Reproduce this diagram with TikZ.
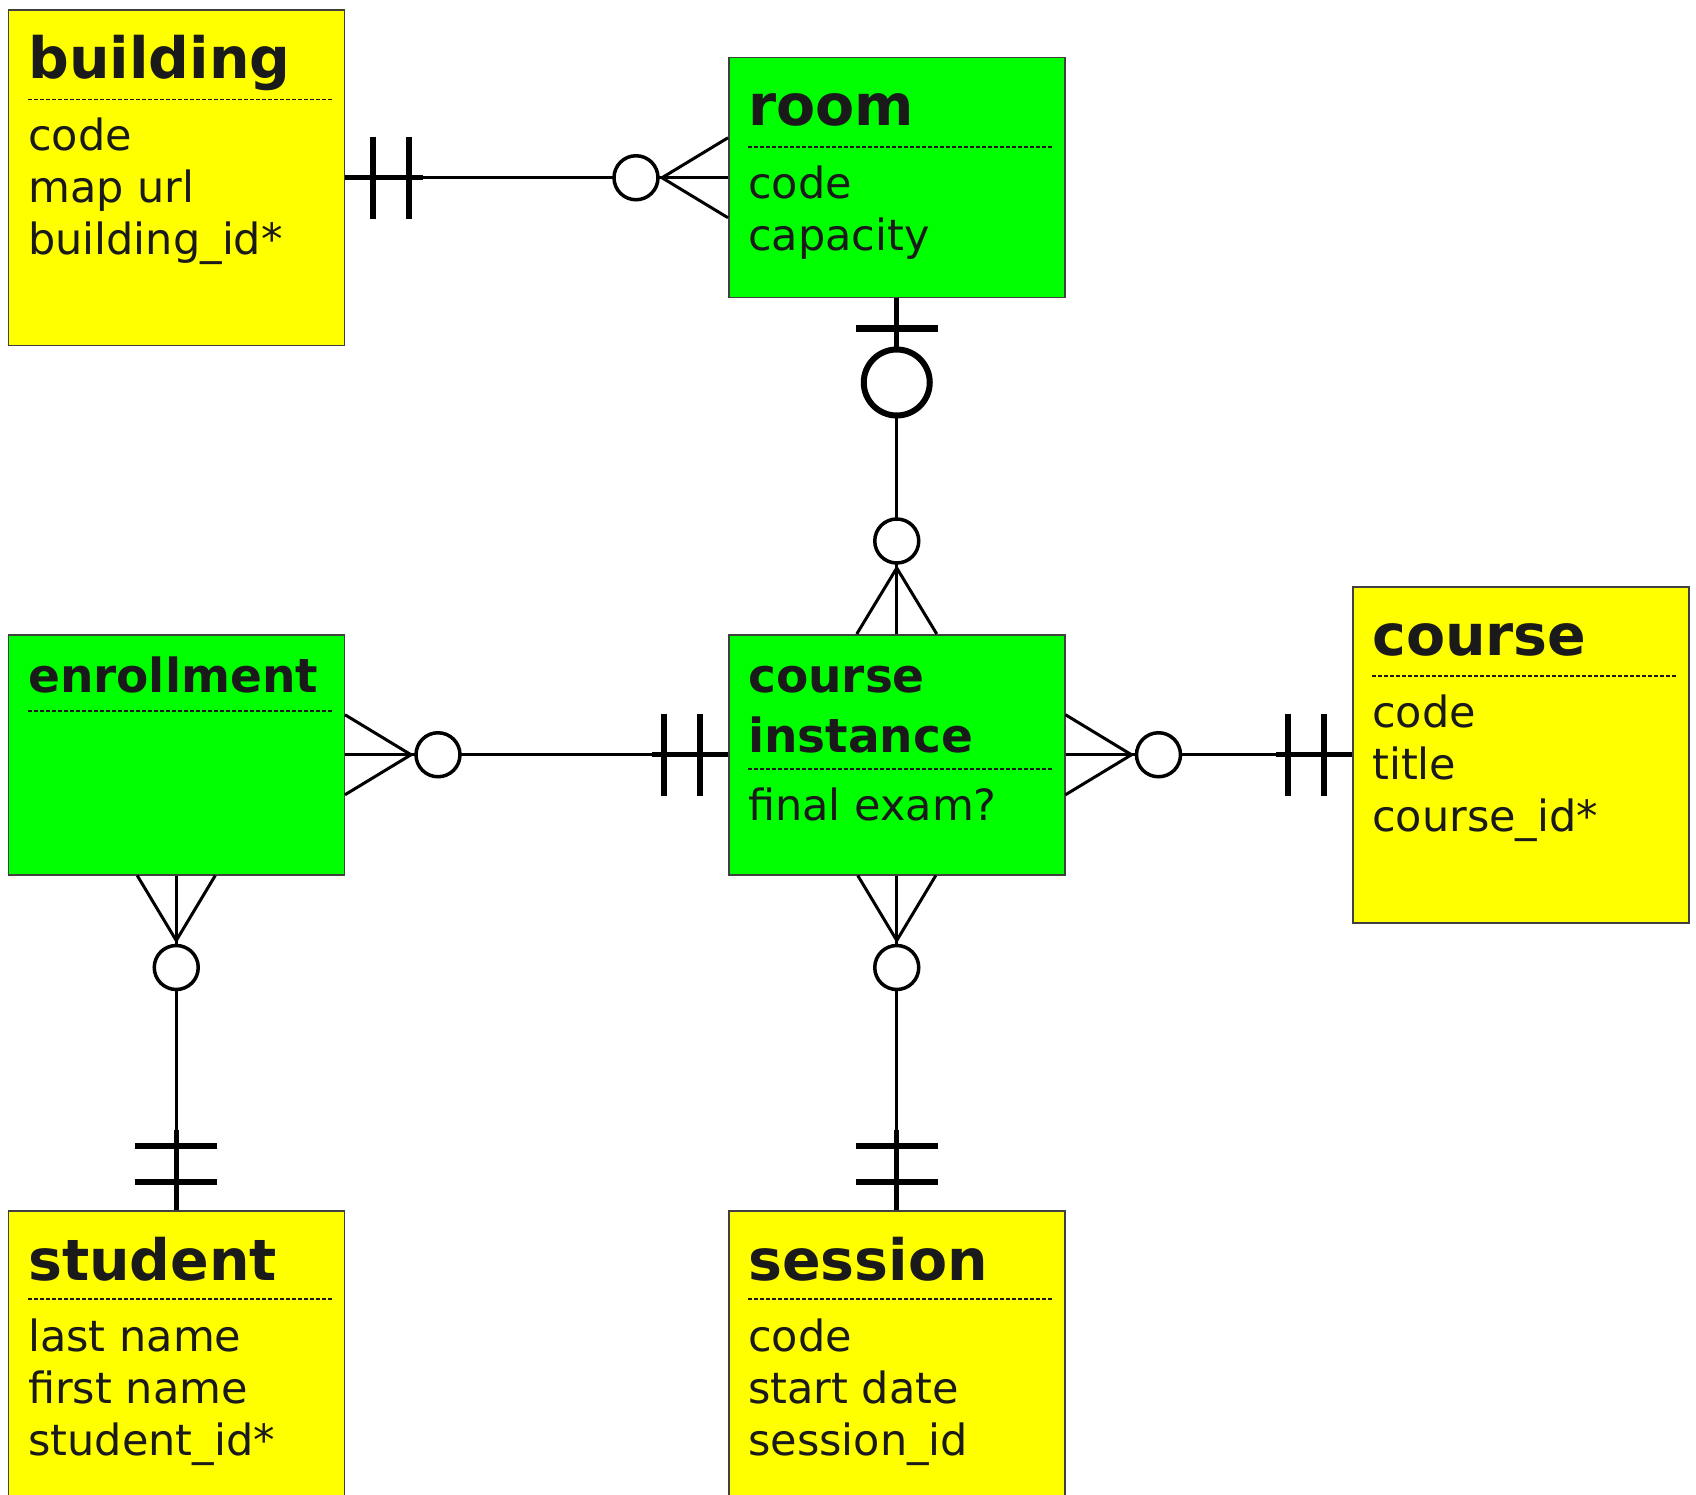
\documentclass[tikz,border=0pt]{standalone}
\usepackage{fontspec}
\setmainfont{DejaVu Sans}
\usetikzlibrary{calc}
\definecolor{ink}{HTML}{1A1A1A}
\definecolor{boxyellow}{HTML}{FFFF00}
\definecolor{boxgreen}{HTML}{00FF00}
\begin{document}
\begin{tikzpicture}[x=1pt,y=-1pt,
  entity/.style={draw=black!75, line width=1.5pt, anchor=north west, inner sep=0pt, minimum width=336pt},
  ybox/.style={entity, fill=boxyellow},
  gbox/.style={entity, fill=boxgreen},
  ttl/.style={anchor=base west, inner sep=0pt, text=ink, font=\fontsize{57}{60}\selectfont\bfseries},
  ttlsmall/.style={anchor=base west, inner sep=0pt, text=ink, font=\fontsize{47}{60}\selectfont\bfseries},
  attr/.style={anchor=base west, inner sep=0pt, text=ink, font=\fontsize{43}{52}\selectfont},
  sepline/.style={draw=ink, line width=1.8pt, dash pattern=on 4pt off 2pt},
  rel/.style={draw=black, line width=3pt},
  relthick/.style={draw=black, line width=5pt},
  barline/.style={draw=black, line width=6.5pt},
  ring/.style={circle, draw=black, fill=white, line width=3.5pt, minimum size=44pt, inner sep=0pt},
  bigring/.style={circle, draw=black, fill=white, line width=6pt, minimum size=66pt, inner sep=0pt}
]
\fill[white] (0,0) rectangle (1696,1495);
\useasboundingbox (0,0) rectangle (1696,1495);

% ---------- entity boxes ----------
\node[ybox, minimum height=335pt] (building) at (7.5,9.5) {};
\node[gbox, minimum height=240pt] (room) at (728,57) {};
\node[gbox, minimum height=240pt] (enrollment) at (7.5,634) {};
\node[gbox, minimum height=240pt] (ci) at (728,634) {};
\node[ybox, minimum height=336pt] (course) at (1352,586) {};
\node[ybox, minimum height=310pt] (student) at (7.5,1210) {};
\node[ybox, minimum height=310pt] (session) at (728,1210) {};

% ---------- texts ----------
% building
\node[ttl] (building-t) at (28,79) {building};
\draw[sepline] (28,99.5) -- (333,99.5);
\node[attr] (building-a1) at (28,151) {code};
\node[attr] (building-a2) at (28,203) {map url};
\node[attr] (building-a3) at (28,255) {building\_id*};
% room
\node[ttl] (room-t) at (748,126) {room};
\draw[sepline] (748,147) -- (1052,147);
\node[attr] (room-a1) at (748,199) {code};
\node[attr] (room-a2) at (748,251) {capacity};
% enrollment
\node[ttlsmall] (enrollment-t) at (28,692) {enrollment};
\draw[sepline] (28,711) -- (333,711);
% course instance
\node[ttlsmall] (ci-t1) at (748,692) {course};
\node[ttlsmall] (ci-t2) at (748,752) {instance};
\draw[sepline] (748,769) -- (1052,769);
\node[attr] (ci-a1) at (748,820) {final exam?};
% course
\node[ttl] (course-t) at (1372,655) {course};
\draw[sepline] (1372,676) -- (1676,676);
\node[attr] (course-a1) at (1372,727) {code};
\node[attr] (course-a2) at (1372,779) {title};
\node[attr] (course-a3) at (1372,831) {course\_id*};
% student
\node[ttl] (student-t) at (28,1280) {student};
\draw[sepline] (28,1299) -- (333,1299);
\node[attr] (student-a1) at (28,1351) {last name};
\node[attr] (student-a2) at (28,1403) {first name};
\node[attr] (student-a3) at (28,1455) {student\_id*};
% session
\node[ttl] (session-t) at (748,1280) {session};
\draw[sepline] (748,1299) -- (1052,1299);
\node[attr] (session-a1) at (748,1351) {code};
\node[attr] (session-a2) at (748,1403) {start date};
\node[attr] (session-a3) at (748,1455) {session\_id};

% ---------- building -- room ----------
\draw[rel] (building.east) -- (room.west);
\draw[relthick] (building.east) -- ++(78,0);
\draw[barline] ($(building.east)+(28,-41)$) -- ++(0,82);
\draw[barline] ($(building.east)+(64,-41)$) -- ++(0,82);
\draw[rel] ($(room.west)+(-66,0)$) -- ($(room.west)+(0,-40)$);
\draw[rel] ($(room.west)+(-66,0)$) -- ($(room.west)+(0,40)$);
\node[ring] (br-ring) at ($(room.west)+(-92,0)$) {};

% ---------- room -- course instance ----------
\draw[rel] (room.south) -- (ci.north);
\draw[relthick] (room.south) -- ++(0,50);
\draw[barline] ($(room.south)+(-41,30)$) -- ++(82,0);
\node[bigring] (rc-ring1) at ($(room.south)+(0,84)$) {};
\draw[rel] ($(ci.north)+(0,-66)$) -- ($(ci.north)+(-40,0)$);
\draw[rel] ($(ci.north)+(0,-66)$) -- ($(ci.north)+(40,0)$);
\node[ring] (rc-ring2) at ($(ci.north)+(0,-93)$) {};

% ---------- enrollment -- course instance ----------
\draw[rel] (enrollment.east) -- (ci.west);
\draw[relthick] (ci.west) -- ++(-76,0);
\draw[barline] ($(ci.west)+(-28,-41)$) -- ++(0,82);
\draw[barline] ($(ci.west)+(-64,-41)$) -- ++(0,82);
\draw[rel] ($(enrollment.east)+(66,0)$) -- ($(enrollment.east)+(0,-40)$);
\draw[rel] ($(enrollment.east)+(66,0)$) -- ($(enrollment.east)+(0,40)$);
\node[ring] (ec-ring) at ($(enrollment.east)+(93,0)$) {};

% ---------- course instance -- course ----------
\draw[rel] (ci.east) -- (course.west);
\draw[relthick] (course.west) -- ++(-76,0);
\draw[barline] ($(course.west)+(-28,-41)$) -- ++(0,82);
\draw[barline] ($(course.west)+(-64,-41)$) -- ++(0,82);
\draw[rel] ($(ci.east)+(66,0)$) -- ($(ci.east)+(0,-40)$);
\draw[rel] ($(ci.east)+(66,0)$) -- ($(ci.east)+(0,40)$);
\node[ring] (cc-ring) at ($(ci.east)+(93,0)$) {};

% ---------- enrollment -- student ----------
\draw[rel] (enrollment.south) -- (student.north);
\draw[relthick] (student.north) -- ++(0,-80);
\draw[barline] ($(student.north)+(-41,-28)$) -- ++(82,0);
\draw[barline] ($(student.north)+(-41,-64)$) -- ++(82,0);
\draw[rel] ($(enrollment.south)+(0,65)$) -- ($(enrollment.south)+(-39,0)$);
\draw[rel] ($(enrollment.south)+(0,65)$) -- ($(enrollment.south)+(39,0)$);
\node[ring] (es-ring) at ($(enrollment.south)+(0,92)$) {};

% ---------- course instance -- session ----------
\draw[rel] (ci.south) -- (session.north);
\draw[relthick] (session.north) -- ++(0,-80);
\draw[barline] ($(session.north)+(-41,-28)$) -- ++(82,0);
\draw[barline] ($(session.north)+(-41,-64)$) -- ++(82,0);
\draw[rel] ($(ci.south)+(0,65)$) -- ($(ci.south)+(-39,0)$);
\draw[rel] ($(ci.south)+(0,65)$) -- ($(ci.south)+(39,0)$);
\node[ring] (cs-ring) at ($(ci.south)+(0,92)$) {};
\end{tikzpicture}
\end{document}
